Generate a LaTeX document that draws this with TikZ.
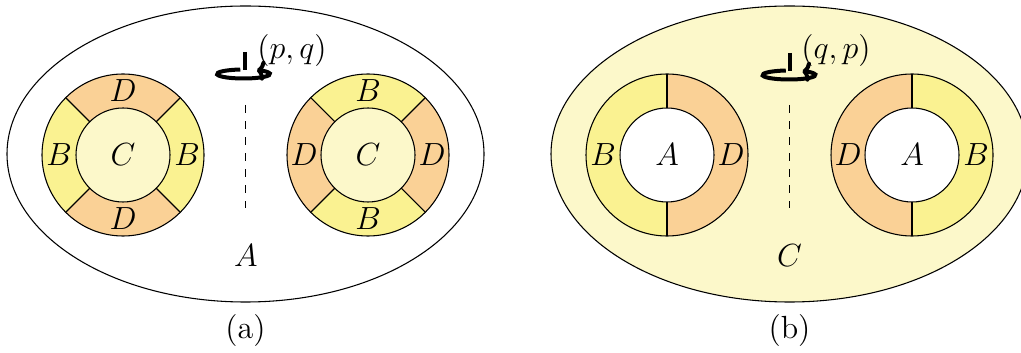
\documentclass[tikz,border=0pt]{standalone}
\usetikzlibrary{arrows.meta,calc}
\definecolor{colD}{RGB}{250,209,150}
\definecolor{colB}{RGB}{250,242,145}
\definecolor{colC}{RGB}{252,248,202}
\begin{document}
\begin{tikzpicture}[x=0.3745pt,y=0.3745pt,
  lbl/.style={font=\fontsize{12}{14}\selectfont, inner sep=0pt},
  thinline/.style={line width=0.4pt},
  rotline/.style={line width=1.5pt},
  rotarrow/.style={line width=1.5pt,-{To[length=3pt,width=7.5pt]}},
  dashline/.style={line width=0.4pt,dashed}]
\useasboundingbox (0,0) rectangle (1021,352);

% ---------------- (a) ----------------
\draw[thinline] (245.5,198) ellipse [x radius=238.5, y radius=148];

% ring a1: B left/right, D top/bottom
\coordinate (ra1) at (123,197);
\fill[colB] (ra1) circle [radius=81];
\fill[colD] (ra1) -- ++(45:81) arc[start angle=45,end angle=135,radius=81] -- cycle;
\fill[colD] (ra1) -- ++(225:81) arc[start angle=225,end angle=315,radius=81] -- cycle;
\filldraw[thinline,fill=colC] (ra1) circle [radius=47];
\draw[thinline] (ra1) circle [radius=81];
\foreach \a in {45,135,225,315} \draw[thinline] (ra1) ++(\a:47) -- ++(\a:34);
\node[lbl] (a1c) at (ra1) {$C$};
\node[lbl] (a1t) at ($(ra1)+(90:64)$) {$D$};
\node[lbl] (a1b) at ($(ra1)+(270:64)$) {$D$};
\node[lbl] (a1l) at ($(ra1)+(180:64)$) {$B$};
\node[lbl] (a1r) at ($(ra1)+(0:64)$) {$B$};

% ring a2: D left/right, B top/bottom
\coordinate (ra2) at (368,197);
\fill[colD] (ra2) circle [radius=81];
\fill[colB] (ra2) -- ++(45:81) arc[start angle=45,end angle=135,radius=81] -- cycle;
\fill[colB] (ra2) -- ++(225:81) arc[start angle=225,end angle=315,radius=81] -- cycle;
\filldraw[thinline,fill=colC] (ra2) circle [radius=47];
\draw[thinline] (ra2) circle [radius=81];
\foreach \a in {45,135,225,315} \draw[thinline] (ra2) ++(\a:47) -- ++(\a:34);
\node[lbl] (a2c) at (ra2) {$C$};
\node[lbl] (a2t) at ($(ra2)+(90:64)$) {$B$};
\node[lbl] (a2b) at ($(ra2)+(270:64)$) {$B$};
\node[lbl] (a2l) at ($(ra2)+(180:64)$) {$D$};
\node[lbl] (a2r) at ($(ra2)+(0:64)$) {$D$};

% axis and rotation
\coordinate (axa1) at (245.5,247);
\coordinate (axa2) at (245.5,144);
\draw[dashline] (axa1) -- (axa2);
\coordinate (rota) at (243.5,278);
\draw[rotline] (245,300) -- (245,282);
\draw[rotarrow] (rota) ++(97:26.5 and 4.5) arc[start angle=97,end angle=420,x radius=26.5,y radius=4.5];
\node[lbl] (pq) at (292,302) {$(p,q)$};
\node[lbl] (labA) at (245.8,96) {$A$};
\node[lbl] (capa) at (245.5,21) {(a)};

% ---------------- (b) ----------------
\filldraw[thinline,fill=colC] (789.5,198) ellipse [x radius=238.5, y radius=148];

% ring b1: B left, D right
\coordinate (rb1) at (667,197);
\fill[colB] (rb1) -- ++(90:81) arc[start angle=90,end angle=270,radius=81] -- cycle;
\fill[colD] (rb1) -- ++(-90:81) arc[start angle=-90,end angle=90,radius=81] -- cycle;
\filldraw[thinline,fill=white] (rb1) circle [radius=47];
\draw[thinline] (rb1) circle [radius=81];
\foreach \a in {90,270} \draw[thinline] (rb1) ++(\a:47) -- ++(\a:34);
\node[lbl] (b1c) at (rb1) {$A$};
\node[lbl] (b1l) at ($(rb1)+(180:64)$) {$B$};
\node[lbl] (b1r) at ($(rb1)+(0:64)$) {$D$};

% ring b2: D left, B right
\coordinate (rb2) at (912,197);
\fill[colD] (rb2) -- ++(90:81) arc[start angle=90,end angle=270,radius=81] -- cycle;
\fill[colB] (rb2) -- ++(-90:81) arc[start angle=-90,end angle=90,radius=81] -- cycle;
\filldraw[thinline,fill=white] (rb2) circle [radius=47];
\draw[thinline] (rb2) circle [radius=81];
\foreach \a in {90,270} \draw[thinline] (rb2) ++(\a:47) -- ++(\a:34);
\node[lbl] (b2c) at (rb2) {$A$};
\node[lbl] (b2l) at ($(rb2)+(180:64)$) {$D$};
\node[lbl] (b2r) at ($(rb2)+(0:64)$) {$B$};

% axis and rotation
\coordinate (axb1) at (789.5,247);
\coordinate (axb2) at (789.5,144);
\draw[dashline] (axb1) -- (axb2);
\coordinate (rotb) at (789,277);
\draw[rotline] (790,299) -- (790,281);
\draw[rotarrow] (rotb) ++(97:26.5 and 4.5) arc[start angle=97,end angle=420,x radius=26.5,y radius=4.5];
\node[lbl] (qp) at (836,302) {$(q,p)$};
\node[lbl] (labC) at (789.5,96) {$C$};
\node[lbl] (capb) at (789.5,21) {(b)};
\end{tikzpicture}
\end{document}
